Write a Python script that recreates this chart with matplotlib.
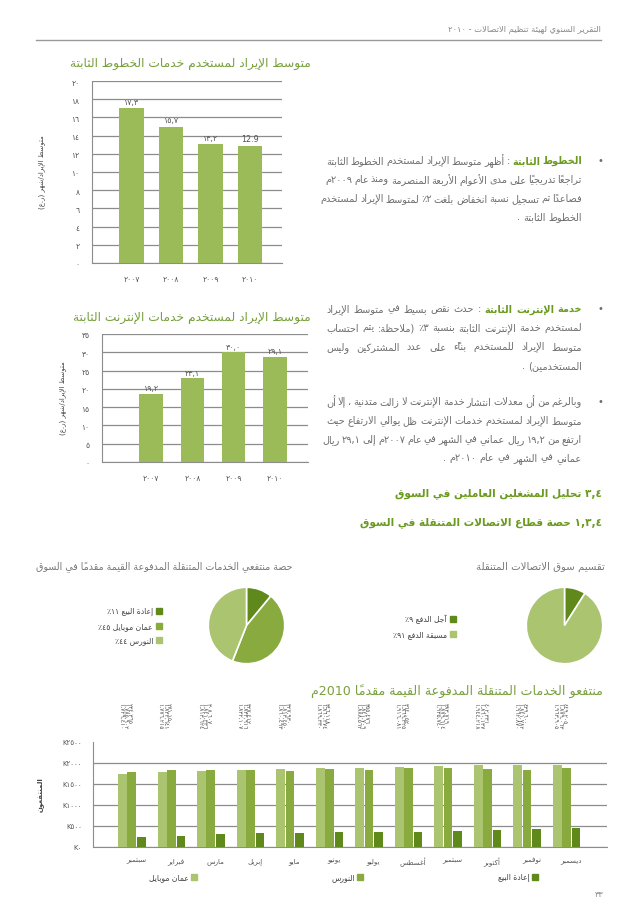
import matplotlib
matplotlib.use('Agg')
import matplotlib.pyplot as plt
import matplotlib.transforms as mtrans
from matplotlib.patches import Rectangle

plt.rcParams['font.family'] = ['DejaVu Sans']

W, H = 638, 903

# ---------------- data ----------------
years = ['2007', '2008', '2009', '2010']
fixed_arpu = [17.0, 15.0, 13.1, 12.9]
fixed_lbls = ['١٧,٣', '١٥,٧', '١٣,٢', '12.9']
net_arpu = [18.6, 22.9, 30.0, 28.8]
net_lbls = ['١٩,٢', '٢٣,١', '٣٠,٠', '٢٩,١']

prepaid_names = ['إعادة البيع', 'عمان موبايل', 'النورس']
prepaid_share = [11, 45, 44]
market_names = ['آجل الدفع', 'مسبقة الدفع']
market_share = [9, 91]

months = ['سبتمبر', 'فبراير', 'مارس', 'إبريل', 'مايو', 'يونيو', 'يوليو',
          'أغسطس', 'سبتمبر', 'أكتوبر', 'نوفمبر', 'ديسمبر']
omantel = [1729410, 1776215, 1813624, 1832107, 1860493, 1869330,
           1888562, 1916081, 1935740, 1944218, 1962870, 1963905]
nawras = [1785902, 1822641, 1841336, 1832916, 1813450, 1860274,
          1841709, 1869325, 1879614, 1860137, 1841782, 1879063]
resale = [234365, 271150, 308607, 327412, 327930, 346118,
          355476, 364052, 383719, 402331, 439600, 449205]

# ---------------- arabic shaping (no raqm in matplotlib) ----------------
DUAL = dict(zip('ئبتثجحخسشصضطظعغفقكلمنهي',
                [0xFE89, 0xFE8F, 0xFE95, 0xFE99, 0xFE9D, 0xFEA1, 0xFEA5, 0xFEB1,
                 0xFEB5, 0xFEB9, 0xFEBD, 0xFEC1, 0xFEC5, 0xFEC9, 0xFECD, 0xFED1,
                 0xFED5, 0xFED9, 0xFEDD, 0xFEE1, 0xFEE5, 0xFEE9, 0xFEF1]))
RIGHT = dict(zip('آأؤإاةدذرزوى',
                 [0xFE81, 0xFE83, 0xFE85, 0xFE87, 0xFE8D, 0xFE93, 0xFEA9, 0xFEAB,
                  0xFEAD, 0xFEAF, 0xFEED, 0xFEEF]))
LAMALEF = dict(zip('آأإا', [0xFEF5, 0xFEF7, 0xFEF9, 0xFEFB]))
MARKS = set(chr(c) for c in range(0x064B, 0x0653))
MIRROR = {'(': ')', ')': '('}


def shape(s):
    items = []
    i = 0
    while i < len(s):
        c = s[i]
        if c in MARKS and items:
            items[-1][2] += c
            i += 1
            continue
        if c == 'ل' and i + 1 < len(s) and s[i + 1] in LAMALEF:
            items.append([s[i + 1], 'LA', ''])
            i += 2
            continue
        kind = 'D' if c in DUAL else ('R' if c in RIGHT else 'U')
        items.append([c, kind, ''])
        i += 1
    out = []
    for j, (c, kind, marks) in enumerate(items):
        prev_d = j > 0 and items[j - 1][1] == 'D'
        nxt = j + 1 < len(items) and items[j + 1][1] in ('D', 'R', 'LA')
        if kind == 'D':
            b = DUAL[c]
            g = b + 3 if (prev_d and nxt) else b + 1 if prev_d else b + 2 if nxt else b
            ch = chr(g)
        elif kind == 'R':
            ch = chr(RIGHT[c] + (1 if prev_d else 0))
        elif kind == 'LA':
            ch = chr(LAMALEF[c] + (1 if prev_d else 0))
        else:
            ch = c
        out.append(ch + marks)

    def is_ltr(ch):
        return ch[0].isdigit() or ('a' <= ch[0].lower() <= 'z')
    ltr = [is_ltr(c) for c in out]
    for j in range(1, len(out) - 1):
        if out[j] in (',', '.') and ltr[j - 1] and is_ltr(out[j + 1]):
            ltr[j] = True
    runs = []
    for c, l in zip(out, ltr):
        if runs and l and runs[-1][0]:
            runs[-1][1].append(c)
        else:
            runs.append([l, [c]])
    vis = []
    for l, cs in reversed(runs):
        vis.extend(cs if l else [MIRROR.get(c, c) for c in cs])
    return ''.join(vis)


def to_ar(s):
    return str(s).translate(str.maketrans('0123456789', '٠١٢٣٤٥٦٧٨٩'))


# ---------------- helpers ----------------
fig = plt.figure(figsize=(W / 100, H / 100), dpi=100)
rend = fig.canvas.get_renderer()

BAR = '#9bbb59'
GRID = '#8c8c8c'
TGREEN = '#78a03c'
HGREEN = '#6a9a1e'
GREY = '#6e6e6e'
DARK, MED, LIGHT = '#5f8a1b', '#88aa3e', '#aac46f'


def px_axes(x0, y0, x1, y1):
    return fig.add_axes([x0 / W, 1 - y1 / H, (x1 - x0) / W, (y1 - y0) / H])


def ftext(x, y, s, **kw):
    return fig.text(x / W, 1 - y / H, s, **kw)


def fit_text(xr, y, s, width, **kw):
    # right-aligned text whose size is set so it spans `width` pixels
    t = ftext(xr, y, s, fontsize=10, ha='right', va='center', **kw)
    w = t.get_window_extent(rend).width
    t.set_fontsize(10 * width / w)
    return t


def square(x, y, s, color):
    fig.add_artist(Rectangle(((x - s / 2) / W, 1 - (y + s / 2) / H), s / W, s / H,
                             transform=fig.transFigure, color=color))


BODY = 7


def draw_line(segs, xr, y, width, justify):
    arts = []
    for txt, bold in segs:
        for w in txt.split():
            t = ftext(0, y, shape(w), fontsize=BODY, ha='right', va='center',
                      color=HGREEN if bold else GREY,
                      fontweight='bold' if bold else 'normal')
            arts.append(t)
    ws = [t.get_window_extent(rend).width for t in arts]
    gap = 3.2
    if justify and len(arts) > 1:
        gap = max(2.0, (width - sum(ws)) / (len(arts) - 1))
    x = xr
    for t, w in zip(arts, ws):
        t.set_x(x / W)
        x -= w + gap


def paragraph(lines, y0, dy=18.8):
    ftext(600, y0, '•', fontsize=7, color=GREY, ha='center', va='center')
    for k, segs in enumerate(lines):
        draw_line(segs, 582, y0 + k * dy, 256, k < len(lines) - 1)


def bar_chart(ax, vals, lbls, ymax, step, xlim, width):
    xs = range(len(vals))
    ax.bar(xs, vals, width=width, color=BAR, zorder=3)
    for x, v, l in zip(xs, vals, lbls):
        ax.text(x, v + ymax * 0.012, l, ha='center', va='bottom', fontsize=5.8, color='#555555')
    ax.set_xlim(*xlim)
    ax.set_ylim(0, ymax)
    ticks = list(range(0, ymax + 1, step))
    ax.set_yticks(ticks)
    ax.set_yticklabels([to_ar(t) for t in ticks])
    ax.set_xticks(list(xs))
    ax.set_xticklabels([to_ar(y) for y in years])
    ax.yaxis.grid(True, color=GRID, lw=0.9)
    ax.set_axisbelow(True)
    for s in ('top', 'right'):
        ax.spines[s].set_visible(False)
    for s in ('left', 'bottom'):
        ax.spines[s].set_color(GRID)
    ax.tick_params(length=0, labelsize=5.5, colors='#555555')
    ax.tick_params(axis='x', pad=8)
    ax.tick_params(axis='y', pad=9)


# ---------------- header ----------------
fit_text(601, 30, shape('التقرير السنوي لهيئة تنظيم الاتصالات - ٢٠١٠'), 154, color='#888888')
fig.add_artist(plt.Line2D([36 / W, 601 / W], [1 - 41 / H, 1 - 41 / H], color='#999999', lw=1))

# ---------------- chart 1 ----------------
t1 = fit_text(311, 63, shape('متوسط الإيراد لمستخدم خدمات الخطوط الثابتة'), 241, color=TGREEN)
ax1 = px_axes(92, 82, 282, 264)
bar_chart(ax1, fixed_arpu, fixed_lbls, 20, 2, (-1.0, 3.81), 0.63)
ftext(42, 172, shape('متوسط الإيراد/شهر (ر.ع)'), fontsize=5, color='#444444',
      rotation=90, ha='center', va='center')

# ---------------- chart 2 ----------------
ftext(311, 318, shape('متوسط الإيراد لمستخدم خدمات الإنترنت الثابتة'), fontsize=t1.get_fontsize(),
      color=TGREEN, ha='right', va='center')
ax2 = px_axes(102, 335, 308, 463)
bar_chart(ax2, net_arpu, net_lbls, 35, 5, (-1.19, 3.8), 0.57)
ftext(63, 398, shape('متوسط الإيراد/شهر (ر.ع)'), fontsize=5, color='#444444',
      rotation=90, ha='center', va='center')

# ---------------- text column ----------------
paragraph([
    [('الخطوط الثابتة', True), (': أظهر متوسط الإيراد لمستخدم الخطوط الثابتة', False)],
    [('تراجعاً تدريجياً على مدى الأعوام الأربعة المنصرمة ومنذ عام ٢٠٠٩م', False)],
    [('فصاعداً تم تسجيل نسبة انخفاض بلغت ٢٪ لمتوسط الإيراد لمستخدم', False)],
    [('الخطوط الثابتة .', False)],
], 161)
paragraph([
    [('خدمة الإنترنت الثابتة', True), (': حدث نقص بسيط في متوسط الإيراد', False)],
    [('لمستخدم خدمة الإنترنت الثابتة بنسبة ٣٪ (ملاحظة: يتم احتساب', False)],
    [('متوسط الإيراد للمستخدم بناءً على عدد المشتركين وليس', False)],
    [('المستخدمين) .', False)],
], 309.5)
paragraph([
    [('وبالرغم من أن معدلات انتشار خدمة الإنترنت لا زالت متدنية ، إلا أن', False)],
    [('متوسط الإيراد لمستخدم خدمات الإنترنت ظل يوالي الارتفاع حيث', False)],
    [('ارتفع من ١٩,٢ ريال عماني في الشهر في عام ٢٠٠٧م إلى ٢٩,١ ريال', False)],
    [('عماني في الشهر في عام ٢٠١٠م .', False)],
], 402)

ftext(602, 494, shape('٣,٤ تحليل المشغلين العاملين في السوق'), fontsize=7.6,
      color=HGREEN, fontweight='bold', ha='right', va='center')
ftext(602, 523, shape('١,٣,٤ حصة قطاع الاتصالات المتنقلة في السوق'), fontsize=7.6,
      color=HGREEN, fontweight='bold', ha='right', va='center')

# ---------------- pies ----------------
fit_text(293, 567, shape('حصة منتفعي الخدمات المتنقلة المدفوعة القيمة مقدماً في السوق'),
         257, color='#777777')
fit_text(605, 567, shape('تقسيم سوق الاتصالات المتنقلة'), 129, color='#777777')

pie_l = px_axes(207.5, 587.5, 285.5, 665.5)
pie_l.pie(prepaid_share, colors=[DARK, MED, LIGHT], startangle=90, counterclock=False,
          wedgeprops=dict(edgecolor='white', linewidth=1.2))
pie_r = px_axes(525.5, 587.5, 603.5, 665.5)
pie_r.pie(market_share, colors=[DARK, LIGHT], startangle=90, counterclock=False,
          wedgeprops=dict(edgecolor='white', linewidth=1.2))
for p in (pie_l, pie_r):
    p.set_xlim(-1.02, 1.02)
    p.set_ylim(-1.02, 1.02)

for k, (n, p, c) in enumerate(zip(prepaid_names, prepaid_share, [DARK, MED, LIGHT])):
    y = 612 + k * 14.5
    square(159, y, 6, c)
    ftext(153, y, shape(n + ' ' + to_ar(p) + '٪'), fontsize=5.5, color='#444444',
          ha='right', va='center')
for k, (n, p, c) in enumerate(zip(market_names, market_share, [DARK, LIGHT])):
    y = 619.5 + k * 15.5
    square(453, y, 6, c)
    ftext(447, y, shape(n + ' ' + to_ar(p) + '٪'), fontsize=5.5, color='#444444',
          ha='right', va='center')

# ---------------- monthly subscribers ----------------
fit_text(603, 691, shape('منتفعو الخدمات المتنقلة المدفوعة القيمة مقدماً 2010م'), 291,
         color=TGREEN)
axb = px_axes(93, 743, 607, 848)
xs = list(range(len(months)))
axb.bar([x - 0.345 for x in xs], omantel, width=0.225, color=LIGHT, zorder=3)
axb.bar([x - 0.115 for x in xs], nawras, width=0.225, color=MED, zorder=3)
axb.bar([x + 0.125 for x in xs], resale, width=0.21, color=DARK, zorder=3)
axb.set_xlim(-1.1, 11.91)
axb.set_ylim(0, 2500000)
yt = list(range(0, 2500001, 500000))
axb.set_yticks(yt)
axb.set_yticklabels(['K' + to_ar(v // 1000) for v in yt])
axb.set_xticks(xs)
axb.set_xticklabels([shape(m) for m in months])
axb.yaxis.grid(True, color=GRID, lw=0.9)
axb.get_ygridlines()[-1].set_visible(False)
axb.set_axisbelow(True)
for s in ('top', 'right'):
    axb.spines[s].set_visible(False)
for s in ('left', 'bottom'):
    axb.spines[s].set_color(GRID)
axb.tick_params(length=0, labelsize=5, colors='#555555')
axb.tick_params(axis='x', pad=7)
axb.tick_params(axis='y', pad=8)

# monthly figures printed vertically above the plot
tb = mtrans.blended_transform_factory(axb.transData, fig.transFigure)
for x, a, b, c in zip(xs, omantel, nawras, resale):
    for off, v in zip((-0.40, -0.29, -0.18), (a, b, c)):
        axb.text(x + off, 1 - 703 / H, to_ar(f'{v:,}'), transform=tb, rotation=-90,
                 rotation_mode='anchor', ha='left', va='center', fontsize=4.3,
                 color='#555555', clip_on=False)

ftext(40, 795, shape('المنتفعون'), fontsize=5, color='#444444', rotation=90,
      ha='center', va='center', fontweight='bold')

for name, c, xsq in [('عمان موبايل', LIGHT, 194), ('النورس', MED, 360), ('إعادة البيع', DARK, 535)]:
    square(xsq, 878, 6, c)
    ftext(xsq - 5, 878, shape(name), fontsize=5.5, color='#444444', ha='right', va='center')

ftext(603, 895, to_ar('33'), fontsize=6, color='#888888', ha='right', va='center')

fig.savefig('out.png', dpi=100)
